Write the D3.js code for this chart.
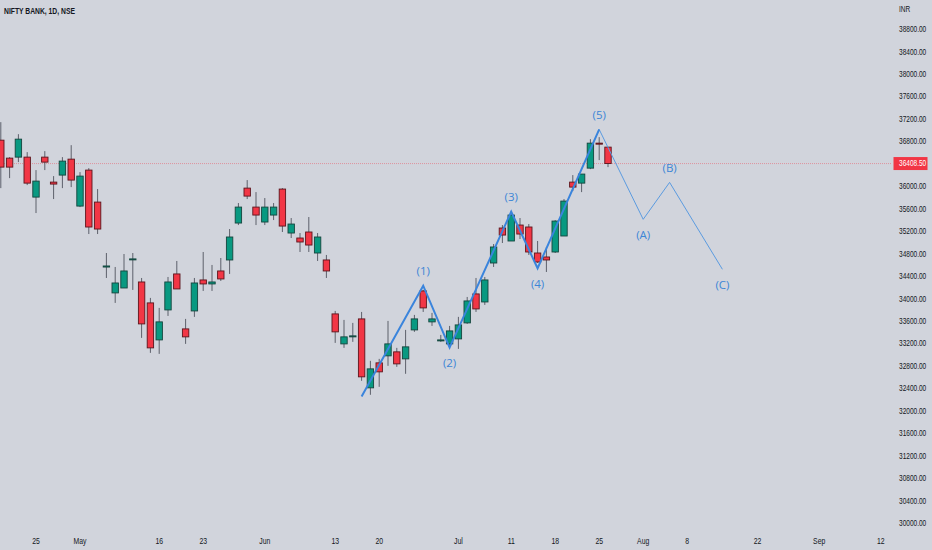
<!DOCTYPE html>
<html>
<head>
<meta charset="utf-8">
<script src="https://cdn.jsdelivr.net/npm/d3@7"></script>
<style>
  html, body { margin: 0; padding: 0; background: #d1d4dc; }
  svg { display: block; }
  text { font-family: "Liberation Sans", Arial, sans-serif; }
</style>
</head>
<body>
<svg id="chart" width="932" height="550"></svg>
<script>
// ---- DATA ----
const title = "NIFTY BANK, 1D, NSE";
const currency = "INR";
const firstIndex = -4; // bar index of first candle (Apr 19), 0 = Apr 25
const openP  = [36825,36505,36523,36523,35811,36523,36078,36203,36487,35651,36292,35722,34565,34104,34192,34700,34299,33926,33267,33801,34442,33463,33783,34335,34264,34495,34691,35349,35971,35633,35367,35491,35954,35171,35082,35189,34815,34691,33730,33196,33321,33641,32413,32858,32983,33054,32929,33445,34139,33588,33267,33196,33285,33570,34086,33943,34637,35260,35029,35313,35278,34815,34744,34833,35118,36078,36060,36327,36772,36701];
const highP  = [37146,36523,36932,36612,36292,36630,36185,36523,36736,36256,36327,35954,34815,34566,34797,34815,34370,34015,33837,34388,34673,33641,34370,34833,34602,34726,35242,35705,36114,35900,35794,35705,35971,35438,35171,35456,35171,34780,33783,33623,33570,33765,32894,32929,33605,33125,33445,33712,34157,33748,33356,33516,33677,34032,34370,34388,34975,35313,35562,35438,35331,35029,34922,35402,35776,36203,36221,36843,36879,36701];
const lowP   = [35971,36149,36434,36025,35527,36292,35776,35971,35989,35633,35153,35153,34370,33926,34192,34157,33303,33036,33018,33694,34175,33196,33677,34139,34139,34317,34442,35313,35776,35313,35313,35402,35189,35082,34833,34833,34673,34370,33214,33125,33232,32538,32289,32431,32805,32787,32663,33410,33765,33516,33232,33161,33107,33552,33765,33890,34566,34993,35029,35064,34780,34637,34477,34815,35118,35918,35900,36309,36470,36345];
const closeP = [36345,36345,36843,36060,36096,36434,36043,36452,36114,36185,35278,35242,34584,34281,34495,34710,33552,33125,33588,34299,34175,33321,34281,34264,34299,34353,35100,35633,35829,35491,35633,35633,35295,35331,35011,34957,35100,34495,33410,33321,33339,32609,32751,32698,33196,32840,33143,33641,33837,33641,33267,33427,33534,33961,33819,34335,34922,35135,35491,35153,34833,34655,34691,35384,35740,35989,36221,36772,36754,36408.5];
const lastPrice = 36408.5;

// y axis ticks
const yTicks = d3.range(30000, 38801, 400);
// x axis ticks (bar index) and labels
const xTickIdx    = [0, 5, 14, 19, 26, 34, 39, 48, 54, 59, 64, 69, 74, 82, 89, 96];
const xTickLabels = ["25","May","16","23","Jun","13","20","Jul","11","18","25","Aug","8","22","Sep","12"];

// Elliott impulse wave (bar index, price, label)
const impIdx    = [37, 44, 47, 54, 57, 64];
const impPrice  = [32259, 34233, 33130, 35550, 34543, 37016];
const impLabels = ["", "(1)", "(2)", "(3)", "(4)", "(5)"];
// Corrective wave
const corIdx    = [64, 69, 72, 78];
const corPrice  = [37016, 35415, 36073, 34525];
const corLabels = ["", "(A)", "(B)", "(C)"];

// ---- RENDER ----
const svg = d3.select("#chart");
const W = 932, H = 550;
svg.append("rect").attr("width", W).attr("height", H).attr("fill", "#d1d4dc");

const x = d3.scaleLinear().domain([-4, 96]).range([0.8, 880.8]);
const y = d3.scaleLinear().domain([30000, 38800]).range([523.3, 29.3]);

const candles = openP.map((o, i) => ({
  i: firstIndex + i, o, h: highP[i], l: lowP[i], c: closeP[i]
}));

const green = "#089981", red = "#f23645";
const gStroke = "#14453d", rStroke = "#5c141c";
const bw = 6.4;

const plot = svg.append("g");

// current price dotted line
plot.append("line")
  .attr("x1", 0).attr("x2", 892)
  .attr("y1", y(lastPrice)).attr("y2", y(lastPrice))
  .attr("stroke", red).attr("stroke-opacity", 0.4)
  .attr("stroke-width", 1).attr("stroke-dasharray", "1,1");

const cg = plot.append("g").selectAll("g").data(candles).join("g");
cg.append("line")
  .attr("x1", d => x(d.i)).attr("x2", d => x(d.i))
  .attr("y1", d => y(d.h)).attr("y2", d => y(d.l))
  .attr("stroke", "#5d606b").attr("stroke-width", 1);
cg.append("rect")
  .attr("x", d => x(d.i) - bw / 2)
  .attr("width", bw)
  .attr("y", d => y(Math.max(d.o, d.c)))
  .attr("height", d => Math.max(1, Math.abs(y(d.o) - y(d.c))))
  .attr("fill", d => d.c >= d.o ? green : red)
  .attr("stroke", d => d.c >= d.o ? gStroke : rStroke)
  .attr("stroke-width", 0.9);

// Elliott waves
const line = d3.line().x(d => x(d[0])).y(d => y(d[1]));
plot.append("path")
  .attr("d", line(corIdx.map((v, k) => [v, corPrice[k]])))
  .attr("fill", "none").attr("stroke", "#5b9be0").attr("stroke-width", 1);
plot.append("path")
  .attr("d", line(impIdx.map((v, k) => [v, impPrice[k]])))
  .attr("fill", "none").attr("stroke", "#3a84dc").attr("stroke-width", 2)
  .attr("stroke-linejoin", "miter");

function waveLabels(idxArr, priceArr, labels) {
  labels.forEach((lab, k) => {
    if (!lab) return;
    const prev = priceArr[k - 1], next = priceArr[k + 1];
    const isPeak = prev !== undefined ? priceArr[k] > prev : priceArr[k] > next;
    plot.append("text")
      .attr("x", x(idxArr[k]))
      .attr("y", y(priceArr[k]) + (isPeak ? -15 : 15))
      .attr("text-anchor", "middle")
      .attr("dominant-baseline", "central")
      .attr("fill", "#3d86d6")
      .attr("font-size", 11.5)
      .style("font-family", "'Open Sans', 'DejaVu Sans', sans-serif")
      .text(lab);
  });
}
waveLabels(impIdx, impPrice, impLabels);
waveLabels(corIdx, corPrice, corLabels);

// horizontally condensed text (narrow UI font look)
function ctext(parent, px, py, f) {
  return parent.append("text")
    .attr("transform", `translate(${px},${py}) scale(${f},1)`)
    .attr("x", 0).attr("y", 0)
    .attr("dominant-baseline", "central");
}

// Right price axis
const axisG = svg.append("g");
yTicks.forEach(v => {
  ctext(axisG, 899, y(v), 0.76)
    .attr("font-size", 8.6).attr("fill", "#131722")
    .text(d3.format(".2f")(v));
});
ctext(axisG, 899, 9.5, 0.76)
  .attr("font-size", 8.6).attr("fill", "#131722")
  .text(currency);

// last price tag
axisG.append("rect")
  .attr("x", 893.5).attr("y", y(lastPrice) - 6.5)
  .attr("width", 34).attr("height", 13)
  .attr("fill", red);
ctext(axisG, 899, y(lastPrice), 0.76)
  .attr("font-size", 8.6).attr("fill", "#ffffff")
  .text(d3.format(".2f")(lastPrice));

// bottom time axis
const xg = svg.append("g");
xTickIdx.forEach((d, k) => {
  ctext(xg, x(d), 541, 0.8)
    .attr("text-anchor", "middle")
    .attr("font-size", 8.6).attr("fill", "#131722")
    .text(xTickLabels[k]);
});

// title
ctext(svg, 4, 11.5, 0.72)
  .attr("font-size", 9.4).attr("font-weight", "bold").attr("fill", "#131722")
  .text(title);
</script>
</body>
</html>
